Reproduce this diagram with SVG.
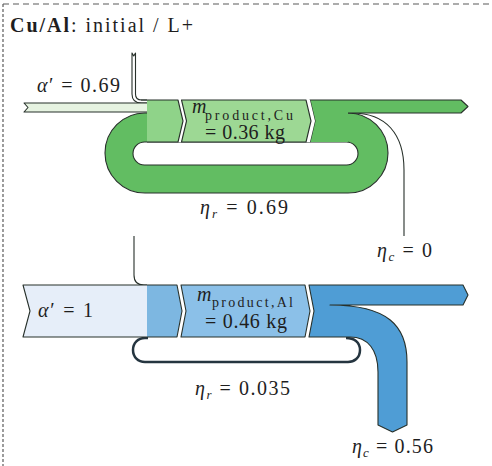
<svg xmlns="http://www.w3.org/2000/svg" width="492" height="466" viewBox="0 0 492 466">
<style>
.t{font-family:"Liberation Serif","Times New Roman",serif;fill:#1e1e1e;font-size:20px;}
.it{font-style:italic;}
.sb{font-size:14px;}
.edge{fill:none;stroke:#27302a;stroke-width:1.1;stroke-linejoin:round;}
.gap{fill:#ffffff;stroke:none;}
.gMain{fill:#62bd62;}
.gMix{fill:#8fd389;}
.gProd{fill:#9dd894;}
.gIn{fill:#e6f3e1;}
.bMain{fill:#4f9dd5;}
.bMix{fill:#7db7e1;}
.bProd{fill:#8bc0e8;}
.bIn{fill:#e6eef9;}
.frame{fill:none;stroke:#5a5a5a;stroke-width:1.2;}
</style>

<g id="frame">
<path class="frame" d="M3,4 L492,4" stroke-dasharray="6 4"/>
<path class="frame" d="M3,4 L3,466" stroke-dasharray="3 2"/>
<text class="t" x="10" y="32" font-size="21" textLength="183"><tspan font-weight="bold">Cu/Al</tspan>: initial / L+</text>
</g>

<!-- ===== Cu (green) ===== -->
<g id="cu-connectors">
<path class="gMain" fill-rule="evenodd" d="M145,113 L348,113 A40,40 0 0 1 348,193 L145,193 A40,40 0 0 1 145,113 Z M144.5,142 L346.5,142 A11.5,11.5 0 0 1 346.5,165 L144.5,165 A11.5,11.5 0 0 1 144.5,142 Z"/>
<path class="edge" d="M348,113 A40,40 0 0 1 348,193 L145,193 A40,40 0 0 1 145,113 L147,113"/>
<path class="edge" d="M144.5,142 L346.5,142 A11.5,11.5 0 0 1 346.5,165 L144.5,165 A11.5,11.5 0 0 1 144.5,142 Z"/>
<path fill="#ffffff" class="edge" d="M147,100 L141.5,100 Q135.5,100 135.5,94 L135.5,53 L133.75,56 L132,53 L132,94 Q132,103 141.5,103 L147,103"/>
<path class="edge" d="M352,113 C386,113 404,134 404,170 L404,236"/>
</g>

<g id="cu-input">
<path class="gIn" d="M24,103 L147,103 L147,112 L24,112 L28,107.5 Z"/>
<path class="edge" d="M147,103 L24,103 L28,107.5 L24,112 L147,112"/>
<text class="t" x="37" y="92" textLength="83"><tspan class="it">α</tspan>′ = 0.69</text>
</g>

<g id="cu-output">
<path class="gMain" d="M310,100 L461,100 L468,106.5 L461,113 L348,113 L348,142 L310,142 L315,121 Z"/>
<path class="edge" d="M310,142 L315,121 L310,100 L461,100 L468,106.5 L461,113 L348,113"/>
</g>

<g id="cu-mix">
<path class="gMix" d="M147,100 L178,100 L183,121 L178,142 L147,142 Z"/>
<path class="gap" d="M178,100 L181.5,100 L186.5,121 L181.5,142 L178,142 L183,121 Z"/>
<path class="edge" d="M141,100 L178,100 L183,121 L178,142 L147,142"/>
</g>

<g id="cu-product">
<path class="gProd" d="M181.5,100 L306,100 L311,121 L306,142 L181.5,142 L186.5,121 Z"/>
<path class="gap" d="M306,100 L310,100 L315,121 L310,142 L306,142 L311,121 Z"/>
<path class="edge" d="M181.5,100 L306,100 L311,121 L306,142 L181.5,142 L186.5,121 Z"/>
<text class="t it" x="192" y="113" font-size="19">m</text>
<text class="t sb" x="205" y="119.5" textLength="88">product,Cu</text>
<text class="t" x="205" y="139" font-size="18" textLength="80">= 0.36 kg</text>
</g>

<g id="cu-labels">
<text class="t" x="200" y="214" textLength="88"><tspan class="it">η</tspan><tspan class="it" font-size="13" dy="4">r</tspan><tspan dy="-4"> = 0.69</tspan></text>
<text class="t" x="377" y="257" textLength="55"><tspan class="it">η</tspan><tspan class="it" font-size="13" dy="4">c</tspan><tspan dy="-4"> = 0</tspan></text>
</g>

<!-- ===== Al (blue) ===== -->
<g id="al-connectors">
<path class="edge" d="M134,236 L134,275 Q134,285 144,285 L147,285"/>
<path fill="none" stroke="#253540" stroke-width="2.5" d="M346,338 C354,338 360,342 360,350 C360,358 354,362 348,362 L145,362 C138,362 133,357 133,350 C133,343 138,338 145,338 L148,338"/>
</g>

<g id="al-input">
<path class="bIn" d="M23,285 L147,285 L147,337 L23,337 L30,311 Z"/>
<path class="edge" d="M147,285 L23,285 L30,311 L23,337 L147,337"/>
<text class="t" x="38" y="317" textLength="55"><tspan class="it">α</tspan>′ = 1</text>
</g>

<g id="al-mix">
<path class="bMix" d="M147,285 L177,285 L182,311 L177,337 L147,337 Z"/>
<path class="gap" d="M177,285 L181,285 L186,311 L181,337 L177,337 L182,311 Z"/>
<path class="edge" d="M147,285 L177,285 L182,311 L177,337 L147,337"/>
</g>

<g id="al-product">
<path class="bProd" d="M181,285 L305,285 L310,311 L305,337 L181,337 L186,311 Z"/>
<path class="gap" d="M305,285 L309,285 L314,311 L309,337 L305,337 L310,311 Z"/>
<path class="edge" d="M181,285 L305,285 L310,311 L305,337 L181,337 L186,311 Z"/>
<text class="t it" x="197" y="301">m</text>
<text class="t sb" x="212" y="307" textLength="81">product,Al</text>
<text class="t" x="205" y="328" textLength="82">= 0.46 kg</text>
</g>

<g id="al-output">
<path class="bMain" d="M309,285 L463,285 L468,295 L463,305 L330,305 C388,305 407,326 407,362 L407,425 L392.5,432 L378,425 L378,372 C378,350 368,337 350,337 L309,337 L314,311 Z"/>
<path class="edge" d="M309,285 L463,285 L468,295 L463,305 L330,305 C388,305 407,326 407,362 L407,425 L392.5,432 L378,425 L378,372 C378,350 368,337 350,337 L309,337 L314,311 Z"/>
</g>

<g id="al-labels">
<text class="t" x="195" y="395" textLength="95"><tspan class="it">η</tspan><tspan class="it" font-size="13" dy="4">r</tspan><tspan dy="-4"> = 0.035</tspan></text>
<text class="t" x="352" y="453" textLength="81"><tspan class="it">η</tspan><tspan class="it" font-size="13" dy="4">c</tspan><tspan dy="-4"> = 0.56</tspan></text>
</g>
</svg>
